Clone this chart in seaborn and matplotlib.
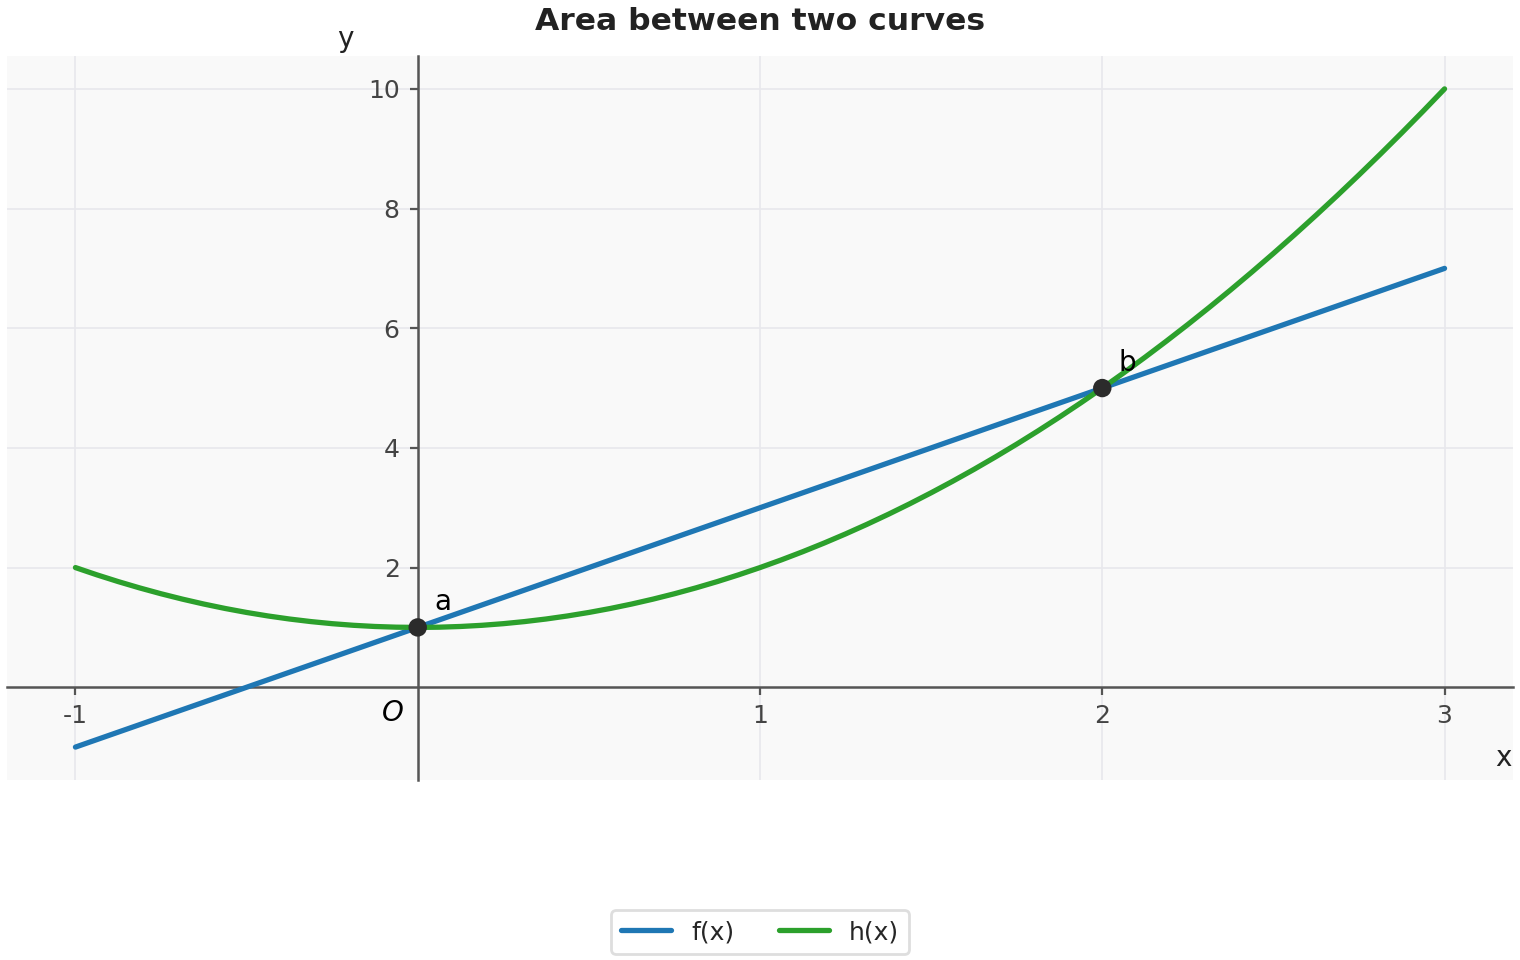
import numpy as np
import pandas as pd
import seaborn as sns
import matplotlib.pyplot as plt

sns.set_theme(style="whitegrid")
plt.rcParams['font.family'] = ['DejaVu Sans']

# ---- data ----
# f(x): straight line, ends
f_x = [-1, 3]
f_y = [-1, 7]
# h(x): parabola sampled every 1/16 on [-1, 3]
h_x = np.linspace(-1, 3, 65)
h_y = [2, 1.8789, 1.7656, 1.6602, 1.5625, 1.4727, 1.3906, 1.3164, 1.25, 1.1914, 1.1406,
       1.0977, 1.0625, 1.0352, 1.0156, 1.0039, 1,
       1.0039, 1.0156, 1.0352, 1.0625, 1.0977, 1.1406, 1.1914, 1.25, 1.3164, 1.3906,
       1.4727, 1.5625, 1.6602, 1.7656, 1.8789, 2,
       2.1289, 2.2656, 2.4102, 2.5625, 2.7227, 2.8906, 3.0664, 3.25, 3.4414, 3.6406,
       3.8477, 4.0625, 4.2852, 4.5156, 4.7539, 5,
       5.2539, 5.5156, 5.7852, 6.0625, 6.3477, 6.6406, 6.9414, 7.25, 7.5664, 7.8906,
       8.2227, 8.5625, 8.9102, 9.2656, 9.6289, 10]
pt_x = [0, 2]
pt_y = [1, 5]
pt_labels = ['a', 'b']
x_ticks = [-1, 1, 2, 3]
x_ticklabels = ['-1', '1', '2', '3']
y_ticks = [2, 4, 6, 8, 10]
y_ticklabels = ['2', '4', '6', '8', '10']

df = pd.concat([
    pd.DataFrame({'x': f_x, 'y': f_y, 'curve': 'f(x)'}),
    pd.DataFrame({'x': h_x, 'y': h_y, 'curve': 'h(x)'}),
])

fig, ax = plt.subplots(figsize=(7.6, 4.8), dpi=200)
fig.subplots_adjust(left=0.0046, right=0.9954, bottom=0.1875, top=0.9417)
ax.set_facecolor('#f9f9f9')

sns.lineplot(data=df, x='x', y='y', hue='curve', palette=['#1f77b4', '#2ca02c'],
             linewidth=1.9, ax=ax, legend=True, zorder=3, sort=False)
sns.scatterplot(x=pt_x, y=pt_y, color='#2b2b2b', s=44, edgecolor='none', ax=ax, zorder=5)

for px, py, lab in zip(pt_x, pt_y, pt_labels):
    ax.annotate(lab, (px, py), xytext=(9, 9), textcoords='offset points',
                ha='center', va='center', fontsize=10, color='black')

ax.set_xlim(-1.2, 3.2)
ax.set_ylim(-1.55, 10.55)

# centered axes
for s in ['top', 'right']:
    ax.spines[s].set_visible(False)
for s in ['left', 'bottom']:
    ax.spines[s].set_position(('data', 0))
    ax.spines[s].set_color('#555555')
    ax.spines[s].set_linewidth(0.9)

ax.set_xticks(x_ticks)
ax.set_xticklabels(x_ticklabels)
ax.set_yticks(y_ticks)
ax.set_yticklabels(y_ticklabels)
ax.tick_params(axis='both', which='both', direction='out', length=3, width=0.8,
               color='#555555', labelcolor='#444444', labelsize=9,
               bottom=True, left=True)
ax.tick_params(axis='x', pad=3)
ax.grid(True, color='#e8e8ec', linewidth=0.6)
ax.set_xlabel('')
ax.set_ylabel('')

ax.annotate('O', (0, 0), xytext=(-9, -9.4), textcoords='offset points',
            ha='center', va='center', fontsize=10, style='italic', color='black')
ax.annotate('x', (1, 0), xycoords=ax.get_yaxis_transform(), xytext=(-0.5, -25.5),
            textcoords='offset points', ha='right', va='center', fontsize=10, color='#222222')
ax.annotate('y', (0, 1), xycoords=ax.get_xaxis_transform(), xytext=(-26, 6),
            textcoords='offset points', ha='center', va='center', fontsize=10, color='#222222')

ax.set_title('Area between two curves', fontsize=11.3, fontweight='bold', color='#222222', pad=9.5)

handles, labels = ax.get_legend_handles_labels()
ax.get_legend().remove()
leg = fig.legend(handles, labels, loc='center', bbox_to_anchor=(0.5, 0.029), ncol=2,
                 fontsize=9, frameon=True, handlelength=2, columnspacing=1.8)
leg.get_frame().set_edgecolor('#d6d6d6')
leg.get_frame().set_facecolor('white')

fig.savefig('out.png', dpi=200)
